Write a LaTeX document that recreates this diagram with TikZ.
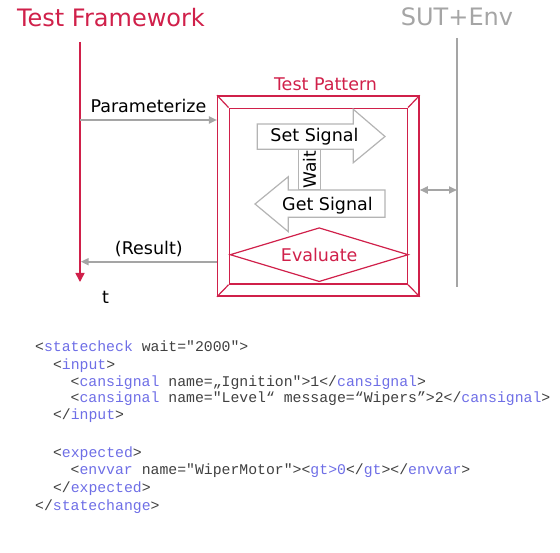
\documentclass[tikz,border=0pt]{standalone}
\usepackage{fontspec}
\setmainfont{DejaVu Sans}
\setmonofont{Liberation Mono}
\usepackage{tikz}
\usetikzlibrary{positioning,shapes.geometric,arrows.meta}

\definecolor{tfred}{RGB}{208,32,74}
\definecolor{sutgray}{RGB}{165,165,165}
\definecolor{siggray}{RGB}{180,180,180}
\definecolor{xmlblue}{RGB}{110,110,230}
\definecolor{xmltext}{RGB}{64,64,64}

\newcommand{\xn}[1]{\textcolor{xmlblue}{#1}}

\tikzset{
    title/.style={font=\fontsize{24}{28}\selectfont, anchor=base},
    lbl/.style={font=\fontsize{17.5}{20}\selectfont, anchor=base},
    edgelbl/.style={font=\fontsize{17.5}{20}\selectfont, above, text depth=4.1pt, inner sep=2.6pt},
    flow/.style={draw=sutgray, line width=1.8pt, -{Triangle[length=8pt,width=7pt]}},
    sigarrow/.style={draw=siggray, fill=white, line width=1.2pt},
    frame/.style={draw=tfred, line width=1.5pt},
    codeline/.style={font=\ttfamily\fontsize{14.8}{17.6}\selectfont, text=xmltext, anchor=base west, inner sep=0},
}

\begin{document}
\begin{tikzpicture}[x=1pt, y=-1pt]
    \useasboundingbox (0,0) rectangle (560,553);

    % lifelines
    \node[title, text=tfred] (tf) at (111,27) {Test Framework};
    \node[title, text=sutgray] (sut) at (457,26) {SUT+Env};
    \coordinate (tftop) at (80,42);
    \coordinate (tfend) at (80,282);
    \coordinate (suttop) at (457,38);
    \coordinate (sutend) at (457,287);
    \draw[tfred, line width=1.6pt, -{Triangle[length=9pt,width=9pt]}] (tftop) -- (tfend);
    \draw[sutgray, line width=1.5pt] (suttop) -- (sutend);
    \node[lbl] (tlbl) at (105.5,304) {t};

    % test pattern
    \node[frame, minimum width=201.3, minimum height=200] (pattern) at (318.35,196) {};
    \node[frame, minimum width=178, minimum height=175.7] (patin) at (318.3,196.15) {};
    \foreach \c in {north west, north east, south west, south east}
        \draw[tfred, line width=1.2pt] (pattern.\c) -- (patin.\c);
    \node[lbl, text=tfred] (tplbl) at (325.5,91) {Test Pattern};

    \node[draw=siggray, line width=1.2pt, rotate=90, minimum width=40.7, minimum height=22.4, inner sep=0,
          font=\fontsize{17}{20}\selectfont] (wait) at (309.5,169.65) {Wait};
    \draw[sigarrow] (257.3,124) -- (353.3,124) -- (353.3,109.3) -- (385,136.5)
        -- (353.3,162.7) -- (353.3,149.3) -- (257.3,149.3) -- cycle;
    \node[lbl] (setsig) at (314.5,142) {Set Signal};
    \draw[sigarrow] (385,190) -- (288.3,190) -- (288.3,176.7) -- (255,204)
        -- (288.3,231.7) -- (288.3,217.3) -- (385,217.3) -- cycle;
    \node[lbl] (getsig) at (327.5,210.7) {Get Signal};

    \node[diamond, draw=tfred, line width=1.2pt, aspect=3.3, inner sep=0, minimum width=178.3, minimum height=54,
          text=tfred, font=\fontsize{17.5}{20}\selectfont] (eval) at (319.2,254.7) {Evaluate};

    % messages
    \coordinate (param) at (80,120);
    \coordinate (result) at (80.7,261.7);
    \draw[flow] (param) -- (param -| pattern.west) node[midway, edgelbl] (paramlbl) {Parameterize};
    \draw[flow] (result -| pattern.west) -- (result) node[midway, edgelbl] (reslbl) {(Result)};
    \draw[flow, {Triangle[length=8pt,width=7pt]}-{Triangle[length=8pt,width=7pt]}]
        (pattern.east |- 0,190) -- (sutend |- 0,190);

    % xml
    \node[codeline] (code1) at (35,351.7) {<\xn{statecheck} wait="2000">};
    \node[codeline] (code2) at (52.8,369.3) {<\xn{input}>};
    \node[codeline] (code3) at (70.5,386.2) {<\xn{cansignal} name=„Ignition">1</\xn{cansignal}>};
    \node[codeline] (code4) at (70.5,402.9) {<\xn{cansignal} name="Level“ message=“Wipers”>2</\xn{cansignal}>};
    \node[codeline] (code5) at (52.8,420) {</\xn{input}>};
    \node[codeline] (code6) at (52.8,457.3) {<\xn{expected}>};
    \node[codeline] (code7) at (70.5,475) {<\xn{envvar} name="WiperMotor"><\xn{gt>0}</\xn{gt}></\xn{envvar}>};
    \node[codeline] (code8) at (52.8,492.7) {</\xn{expected}>};
    \node[codeline] (code9) at (35,510) {</\xn{statechange}>};
\end{tikzpicture}
\end{document}
